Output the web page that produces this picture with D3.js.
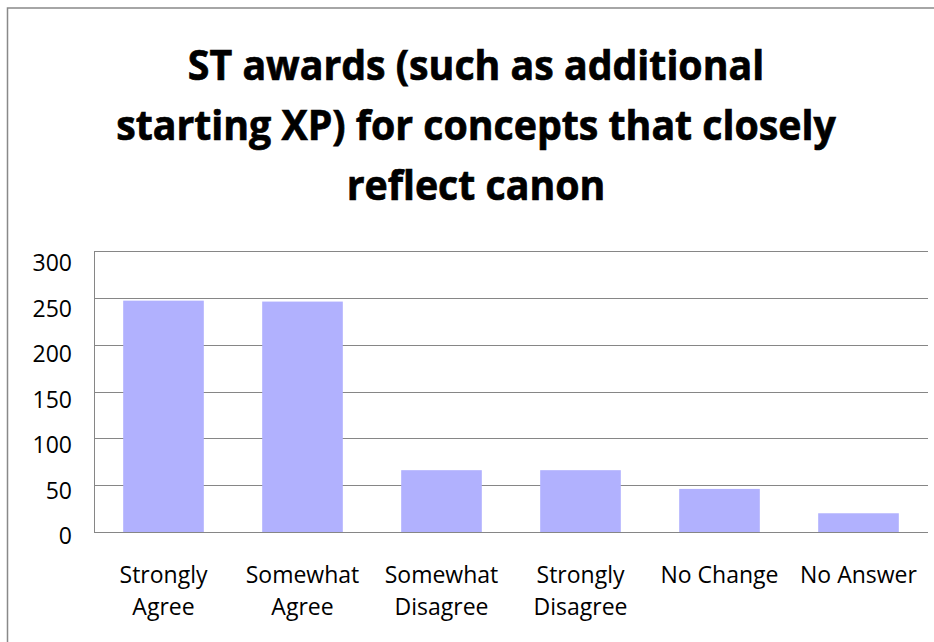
<!DOCTYPE html>
<html>
<head>
<meta charset="utf-8">
<script src="https://cdn.jsdelivr.net/npm/d3@7"></script>
<style>
    html, body { margin: 0; padding: 0; background: #fff; }
    svg { display: block; }
</style>
</head>
<body>
<script>
// chart data
var categories = [["Strongly", "Agree"], ["Somewhat", "Agree"], ["Somewhat", "Disagree"], ["Strongly", "Disagree"], ["No Change"], ["No Answer"]];
var values = [247, 246, 66, 66, 46, 20];
var yTicks = [0, 50, 100, 150, 200, 250, 300];
var titleLines = ["ST awards (such as additional", "starting XP) for concepts that closely", "reflect canon"];

createChart();

function createChart() {
    var width = 934,
        height = 642;

    var svg = d3.select("body").append("svg")
        .attr("width", width)
        .attr("height", height);

    // outer chart border (right / bottom edges fall outside the picture)
    svg.append("rect")
        .attr("x", 7.5)
        .attr("y", 8)
        .attr("width", 960)
        .attr("height", 700)
        .attr("fill", "white")
        .attr("stroke", "#898989")
        .attr("stroke-width", 1.5);

    // title - measured then squeezed to look like the narrow bold font of the original
    var title = svg.append("g")
        .attr("font-family", "'Open Sans', sans-serif")
        .attr("font-weight", "bold")
        .attr("font-size", "41px")
        .attr("fill", "black")
        .attr("stroke", "black")
        .attr("stroke-width", 0.7);

    var titleText = title.selectAll("text")
        .data(titleLines)
        .enter()
        .append("text")
        .attr("x", 0)
        .attr("y", function (d, i) { return 80 + i * 60; })
        .attr("text-anchor", "middle")
        .text(function (d) { return d; });

    var widest = d3.max(titleText.nodes(), function (n) { return n.getComputedTextLength(); });
    title.attr("transform", "translate(476,0) scale(" + (720 / widest) + ",1)");

    // scales
    var x = d3.scaleBand()
        .domain(d3.range(categories.length))
        .range([94, 928])
        .paddingInner(0.42)
        .paddingOuter(0.21);

    var y = d3.scaleLinear()
        .domain([0, 300])
        .range([532, 251]);

    // gridlines
    svg.append("g")
        .selectAll("line")
        .data(yTicks)
        .enter()
        .append("line")
        .attr("x1", 94)
        .attr("x2", 928)
        .attr("y1", function (d) { return Math.round(y(d)) + 0.5; })
        .attr("y2", function (d) { return Math.round(y(d)) + 0.5; })
        .attr("stroke", "#868686")
        .attr("stroke-width", 1);

    // y axis line
    svg.append("line")
        .attr("x1", 94.5)
        .attr("x2", 94.5)
        .attr("y1", y(300))
        .attr("y2", y(0))
        .attr("stroke", "#868686")
        .attr("stroke-width", 1);

    // bars
    svg.append("g")
        .selectAll("rect")
        .data(values)
        .enter()
        .append("rect")
        .attr("x", function (d, i) { return x(i); })
        .attr("y", function (d) { return y(d); })
        .attr("width", x.bandwidth())
        .attr("height", function (d) { return y(0) - y(d); })
        .attr("fill", "#b1b1fe");

    // redraw the baseline on top of the bars
    svg.append("line")
        .attr("x1", 94)
        .attr("x2", 928)
        .attr("y1", Math.round(y(0)) + 0.5)
        .attr("y2", Math.round(y(0)) + 0.5)
        .attr("stroke", "#868686")
        .attr("stroke-width", 1);

    // y tick labels - the original spreads its labels a bit tighter than the gridlines
    var yLabel = d3.scaleLinear()
        .domain([0, 300])
        .range([y(0) + 4, y(300) + 12]);

    svg.append("g")
        .selectAll("text")
        .data(yTicks)
        .enter()
        .append("text")
        .attr("x", 72)
        .attr("y", function (d) { return yLabel(d); })
        .attr("dy", "0.35em")
        .attr("text-anchor", "end")
        .attr("font-family", "'Open Sans', sans-serif")
        .attr("font-size", "23px")
        .attr("fill", "black")
        .text(function (d) { return d; });

    // category labels (one or two lines)
    var catLabels = svg.append("g")
        .selectAll("text")
        .data(categories)
        .enter()
        .append("text")
        .attr("text-anchor", "middle")
        .attr("font-family", "'Open Sans', sans-serif")
        .attr("font-size", "23px")
        .attr("fill", "black");

    catLabels.selectAll("tspan")
        .data(function (d, i) { return d.map(function (s) { return { s: s, i: i }; }); })
        .enter()
        .append("tspan")
        .attr("x", function (d) { return x(d.i) + x.bandwidth() / 2; })
        .attr("y", function (d, j) { return 583 + j * 32; })
        .text(function (d) { return d.s; });

    return svg.node();
};
</script>
</body>
</html>
